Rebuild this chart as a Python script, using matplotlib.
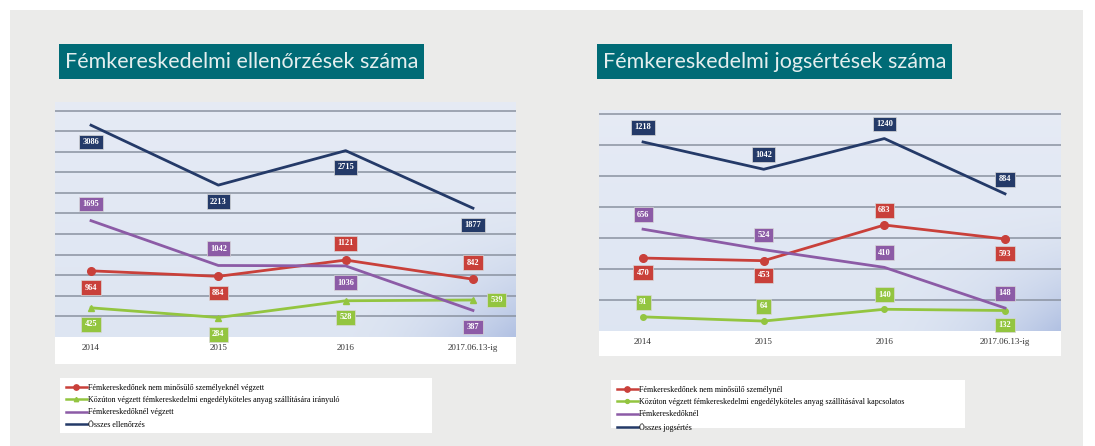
import numpy as np
import matplotlib.pyplot as plt
from matplotlib.patches import Rectangle
from matplotlib.lines import Line2D

W, H = 1095, 446

years = ["2014", "2015", "2016", "2017.06.13-ig"]

# Fémkereskedelmi ellenőrzések száma
ell_red = [964, 884, 1121, 842]
ell_green = [425, 284, 528, 539]
ell_purple = [1695, 1042, 1036, 387]
ell_navy = [3086, 2213, 2715, 1877]
ell_legend = ["Fémkereskedőnek nem minősülő személyeknél végzett",
              "Közúton végzett fémkereskedelmi engedélyköteles anyag szállítására irányuló",
              "Fémkereskedőknél végzett",
              "Összes ellenőrzés"]

# Fémkereskedelmi jogsértések száma
jog_red = [470, 453, 683, 593]
jog_green = [91, 64, 140, 132]
jog_purple = [656, 524, 410, 148]
jog_navy = [1218, 1042, 1240, 884]
jog_legend = ["Fémkereskedőnek nem minősülő személynél",
              "Közúton végzett fémkereskedelmi engedélyköteles anyag szállításával kapcsolatos",
              "Fémkereskedőknél",
              "Összes jogsértés"]

RED = "#c9403a"
GREEN = "#93c540"
PURPLE = "#8c5ba6"
NAVY = "#243a68"
TEAL = "#006b76"
BG = "#ebebea"


def rect(x0, y0, x1, y1):
    # pixel box (top-left origin) -> figure fraction
    return [x0 / W, 1 - y1 / H, (x1 - x0) / W, (y1 - y0) / H]


fig = plt.figure(figsize=(W / 100, H / 100), dpi=100, facecolor="white")
fig.patches.append(Rectangle((10 / W, 0), 1073 / W, 436 / H, transform=fig.transFigure,
                             facecolor=BG, edgecolor="none", zorder=-10))


def title_box(x0, y0, x1, y1, text):
    fig.patches.append(Rectangle((x0 / W, 1 - y1 / H), (x1 - x0) / W, (y1 - y0) / H,
                                 transform=fig.transFigure, facecolor=TEAL, edgecolor="none"))
    fig.text((x0 + 6) / W, 1 - (y0 + y1) / 2 / H, text, color="#e4eeee", fontsize=15.5,
             family="Lato", va="center", ha="left")


def gradient(ax):
    ny, nx = 60, 120
    yy, xx = np.mgrid[0:1:ny * 1j, 0:1:nx * 1j]
    top = np.array([0.90, 0.92, 0.96])
    low = np.array([0.87, 0.90, 0.95])
    corner = np.array([0.70, 0.76, 0.89])
    base = top[None, None, :] * (1 - yy[..., None]) + low[None, None, :] * yy[..., None]
    w = np.clip((xx - 0.6) / 0.4, 0, 1) ** 2 * np.clip((yy - 0.35) / 0.65, 0, 1) ** 2
    img = base * (1 - w[..., None]) + corner[None, None, :] * w[..., None]
    ax.imshow(img, extent=[0, 1, 0, 1], transform=ax.transAxes, aspect="auto",
              zorder=0, interpolation="bicubic")


def chart(frame, plot, xlim, ylim, grid, series, places, legend_box, legend_labels, dy):
    fax = fig.add_axes(rect(*frame))
    fax.set_facecolor("white")
    fax.set_xticks([])
    fax.set_yticks([])
    for s in fax.spines.values():
        s.set_visible(False)

    ax = fig.add_axes(rect(*plot))
    gradient(ax)
    ax.set_xlim(*xlim)
    ax.set_ylim(*ylim)
    for g in grid:
        ax.axhline(g, color="#8a92a0", lw=1.1, zorder=1)
    for s in ax.spines.values():
        s.set_visible(False)
    ax.set_yticks([])
    x = np.arange(len(years))
    ax.set_xticks(x)
    ax.set_xticklabels(years, family="Liberation Serif", fontsize=6.5, color="#333333")
    ax.tick_params(axis="x", length=0, pad=5)

    for (vals, color, marker, ms), pl in zip(series, places):
        ax.plot(x, vals, color=color, lw=2.0, marker=marker, ms=ms, zorder=3)
        for xi, v, p in zip(x, vals, pl):
            off = {"b": (0, -dy), "a": (0, dy), "r": (17, 0)}[p]
            ax.annotate(str(v), (xi, v), xytext=off, textcoords="offset points",
                        ha="center", va="center", fontsize=6, color="white",
                        family="Liberation Serif", weight="bold", zorder=5,
                        bbox=dict(boxstyle="square,pad=0.4", fc=color, ec="#d8d8d8", lw=0.5))

    lax = fig.add_axes(rect(*legend_box))
    lax.set_facecolor("white")
    lax.set_xticks([])
    lax.set_yticks([])
    for s in lax.spines.values():
        s.set_visible(False)
    handles = [Line2D([], [], color=c, lw=1.8, marker=m, ms=ms * 0.7) for (v, c, m, ms) in series]
    lax.legend(handles, legend_labels, loc="upper left", frameon=False,
               prop={"family": "Liberation Serif", "size": 5.8}, handlelength=2.6,
               handletextpad=0.2, labelspacing=0.55, borderaxespad=0.3,
               bbox_to_anchor=(0.0, 1.0))
    return ax


title_box(59, 44, 424, 79, "Fémkereskedelmi ellenőrzések száma")
title_box(597, 44, 952, 79, "Fémkereskedelmi jogsértések száma")

chart(frame=(55, 102, 516, 364), plot=(55, 102, 516, 337),
      xlim=(-0.283, 3.338), ylim=(0, 3424), grid=range(300, 3301, 300),
      series=[(ell_red, RED, "o", 5.5), (ell_green, GREEN, "^", 4.5),
              (ell_purple, PURPLE, None, 0), (ell_navy, NAVY, None, 0)],
      places=["bbaa", "bbbr", "aabb", "bbbb"],
      legend_box=(60, 378, 432, 433), legend_labels=ell_legend, dy=12)

chart(frame=(599, 110, 1061, 356), plot=(599, 110, 1061, 331),
      xlim=(-0.365, 3.464), ylim=(0, 1424), grid=range(200, 1401, 200),
      series=[(jog_red, RED, "o", 5.5), (jog_green, GREEN, "o", 4),
              (jog_purple, PURPLE, None, 0), (jog_navy, NAVY, None, 0)],
      places=["bbab", "aaab", "aaaa", "aaaa"],
      legend_box=(611, 380, 965, 428), legend_labels=jog_legend, dy=10.5)

fig.savefig("out.png", dpi=100, facecolor="white")
